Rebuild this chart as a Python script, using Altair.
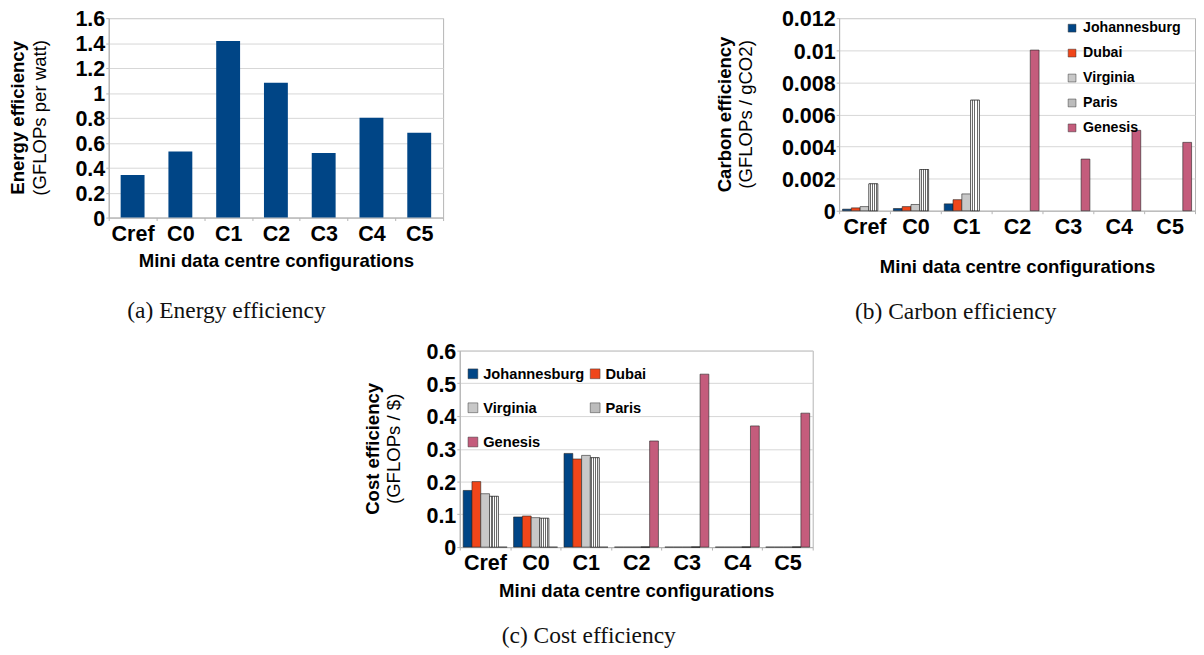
import altair as alt
import pandas as pd

configs = ["Cref", "C0", "C1", "C2", "C3", "C4", "C5"]
cities = ["Johannesburg", "Dubai", "Virginia", "Paris", "Genesis"]
city_colors = ["#004586", "#f0461a", "#c8c8c8", "#bcbcbc", "#c45c7c"]
# legend order of panel (c): its legend is laid out in two columns
cities_c_legend = ["Johannesburg", "Virginia", "Genesis", "Dubai", "Paris"]
colors_c_legend = ["#004586", "#c8c8c8", "#c45c7c", "#f0461a", "#bcbcbc"]

energy = [0.342, 0.530, 1.417, 1.081, 0.519, 0.801, 0.681]

# carbon efficiency: cities for Cref, C0, C1 ; Genesis for C2..C5
carbon_configs_city = ["Cref", "C0", "C1"]
carbon_johannesburg = [0.00010, 0.00014, 0.00043]
carbon_dubai = [0.00018, 0.00026, 0.00069]
carbon_virginia = [0.00026, 0.00039, 0.00105]
carbon_paris = [0.00168, 0.00257, 0.00689]
carbon_configs_genesis = ["C2", "C3", "C4", "C5"]
carbon_genesis = [0.01001, 0.00322, 0.00501, 0.00426]

cost_johannesburg = [0.173, 0.092, 0.286, 0, 0, 0, 0]
cost_dubai = [0.200, 0.095, 0.269, 0, 0, 0, 0]
cost_virginia = [0.163, 0.090, 0.280, 0, 0, 0, 0]
cost_paris = [0.155, 0.088, 0.273, 0, 0, 0, 0]
cost_genesis = [0, 0, 0, 0.324, 0.528, 0.370, 0.409]

energy_ticks = [0, 0.2, 0.4, 0.6, 0.8, 1.0, 1.2, 1.4, 1.6]
carbon_ticks = [0, 0.002, 0.004, 0.006, 0.008, 0.01, 0.012]
cost_ticks = [0, 0.1, 0.2, 0.3, 0.4, 0.5, 0.6]

SANS = "Liberation Sans"
SERIF = "Liberation Serif"

# ---------- data tables ----------
df_a = pd.DataFrame({"config": configs, "value": energy})

rows_b = []
for name, vals in [("Johannesburg", carbon_johannesburg), ("Dubai", carbon_dubai),
                   ("Virginia", carbon_virginia), ("Paris", carbon_paris)]:
    for c, v in zip(carbon_configs_city, vals):
        rows_b.append({"config": c, "city": name, "value": v})
for c, v in zip(carbon_configs_genesis, carbon_genesis):
    rows_b.append({"config": c, "city": "Genesis", "value": v})
df_b = pd.DataFrame(rows_b)

rows_c = []
for name, vals in [("Johannesburg", cost_johannesburg), ("Dubai", cost_dubai),
                   ("Virginia", cost_virginia), ("Paris", cost_paris),
                   ("Genesis", cost_genesis)]:
    for c, v in zip(configs, vals):
        rows_c.append({"config": c, "city": name, "value": v})
df_c = pd.DataFrame(rows_c)


def stripes(n, c1, c2):
    stops = []
    for i in range(n):
        col = c1 if i % 2 == 0 else c2
        stops.append(alt.GradientStop(offset=i / n, color=col))
        stops.append(alt.GradientStop(offset=(i + 1) / n, color=col))
    return alt.LinearGradient(gradient="linear", stops=stops, x1=0, x2=1, y1=0, y2=0)


def x_enc(tpad):
    return alt.X("config:N", sort=configs,
                 scale=alt.Scale(domain=configs, paddingInner=0, paddingOuter=0),
                 axis=alt.Axis(title="Mini data centre configurations", labelAngle=0,
                               tickBand="extent", tickSize=3, labelPadding=3,
                               titlePadding=tpad, grid=False))


def y_enc(ticks, dmax):
    return alt.Y("value:Q", scale=alt.Scale(domain=[0, dmax], nice=False, zero=True),
                 axis=alt.Axis(title=None, values=ticks, format="~g", tickSize=3,
                               labelPadding=1, labelOffset=1, grid=True))


def ytitle(t, s, offset):
    return alt.TitleParams(text=t, subtitle=s, orient="left", anchor="middle",
                           frame="group", font=SANS, fontSize=19, fontWeight="bold",
                           color="black", subtitleFont=SANS, subtitleFontSize=19,
                           subtitleFontWeight="normal", subtitleColor="black",
                           subtitlePadding=3, offset=offset)


def caption(t, offset):
    return alt.TitleParams(text=t, orient="bottom", anchor="middle", frame="bounds",
                           font=SERIF, fontSize=24, fontWeight="normal",
                           color="#111111", offset=offset)


def indep(ch):
    return ch.resolve_scale(color="independent").resolve_legend(color="independent")


# ---------- panel (a) ----------
A = alt.Chart(df_a).mark_bar(color="#004586", width=alt.RelativeBandSize(0.5)).encode(
    x=x_enc(8), y=y_enc(energy_ticks, 1.6)
).properties(width=342, height=204, title=ytitle("Energy efficiency", "(GFLOPs per watt)", 26))


# ---------- grouped panels ----------
def grouped(df, ticks, dmax, w, h, legend, outer, title, tpad, ldom, lrange):
    xo = alt.XOffset("city:N", scale=alt.Scale(domain=cities, paddingInner=0, paddingOuter=outer))
    base = alt.Chart(df).mark_bar(stroke="#222222", strokeWidth=0.6).encode(
        x=x_enc(tpad), y=y_enc(ticks, dmax), xOffset=xo,
        color=alt.Color("city:N", scale=alt.Scale(domain=ldom, range=lrange),
                        legend=legend)
    )
    paris = alt.Chart(df).transform_filter(alt.datum.city == "Paris").mark_bar(
        fill=stripes(9, "#ffffff", "#6a6a6a"), stroke="#222222", strokeWidth=0.6
    ).encode(x=x_enc(tpad), y=y_enc(ticks, dmax), xOffset=xo)
    return alt.layer(base, paris).properties(width=w, height=h, title=title)


legend_b = alt.Legend(title=None, orient="none", legendX=231, legendY=3,
                      symbolType="square", symbolSize=64, symbolStrokeColor="#333333",
                      symbolStrokeWidth=0.5, labelFont=SANS, labelFontSize=14.5,
                      labelFontWeight="bold", labelColor="black", rowPadding=10.5,
                      labelOffset=4, padding=0)
legend_c = alt.Legend(title=None, orient="none", legendX=6, legendY=16, columns=2,
                      symbolType="square", symbolSize=100, symbolStrokeColor="#333333",
                      symbolStrokeWidth=0.5, labelFont=SANS, labelFontSize=15,
                      labelFontWeight="bold", labelColor="black", rowPadding=19,
                      columnPadding=3, labelOffset=3, padding=0)

B = grouped(df_b, carbon_ticks, 0.012, 364, 197, legend_b, 0.39,
            ytitle("Carbon efficiency", "(GFLOPs / gCO2)", 26), 21,
            cities, city_colors)
C = grouped(df_c, cost_ticks, 0.6, 361, 201, legend_c, 0.5,
            ytitle("Cost efficiency", "(GFLOPs / $)", 22), 9,
            cities_c_legend, colors_c_legend)

A_cap = indep(alt.vconcat(A, title=caption("(a) Energy efficiency", 29)))
B_cap = indep(alt.vconcat(B, title=caption("(b) Carbon efficiency", 24)))
C_cap = indep(alt.vconcat(C, title=caption("(c) Cost efficiency", 24)))

spacer = alt.Chart(pd.DataFrame({"v": [0]})).mark_point(opacity=0).encode(
    x=alt.value(0), y=alt.value(0)
).properties(width=260, height=10, view=alt.ViewBackground(stroke=None))

top_row = indep(alt.hconcat(A_cap, B_cap, spacing=277))
bottom_row = indep(alt.hconcat(spacer, C_cap, spacing=0))

chart = indep(alt.vconcat(top_row, bottom_row, spacing=16)).properties(
    padding={"left": 0, "top": -8, "right": 0, "bottom": 0}
).configure_view(
    stroke="#b3b3b3"
).configure_axis(
    labelFont=SANS, labelFontSize=22, labelFontWeight="bold", labelColor="black",
    titleFont=SANS, titleFontSize=19, titleFontWeight="bold", titleColor="black",
    domainColor="#b3b3b3", tickColor="#b3b3b3", gridColor="#d6d6d6"
)

chart.save("out.html", embed_options={"renderer": "svg", "actions": False})
